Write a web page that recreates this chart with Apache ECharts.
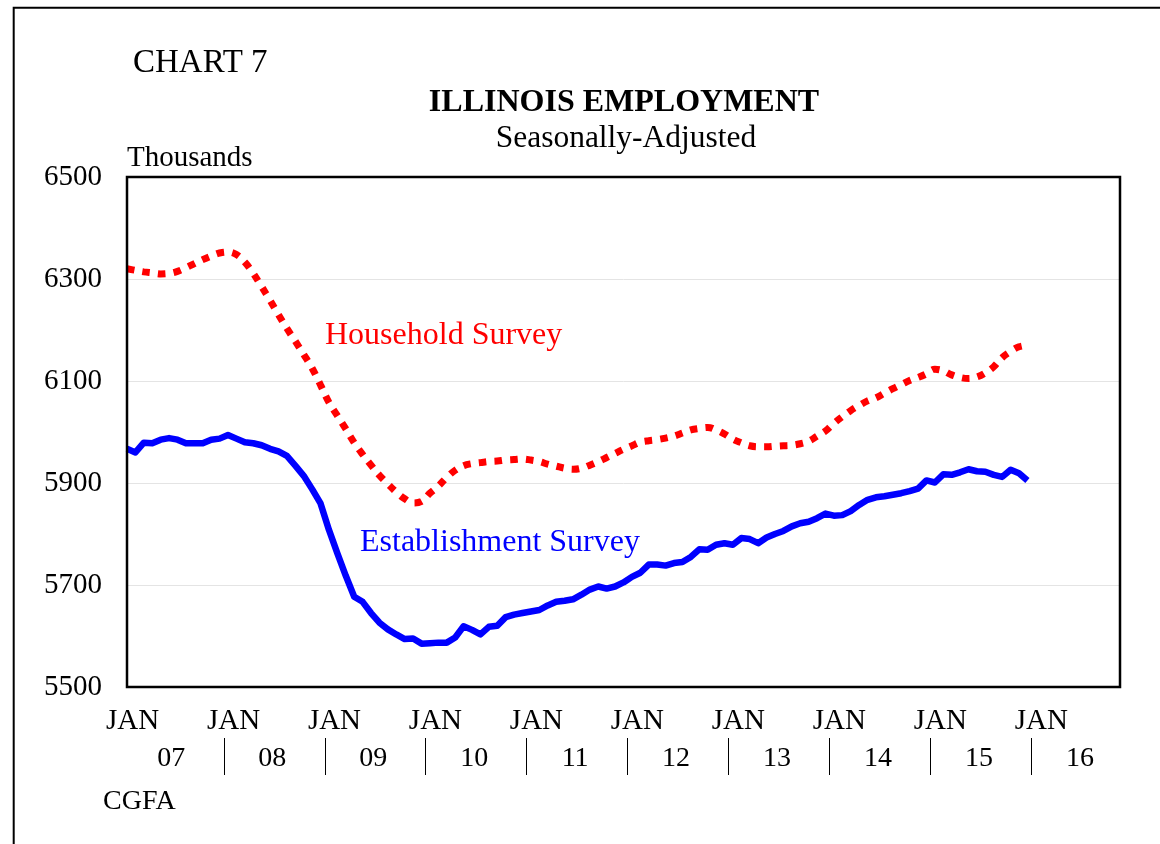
<!DOCTYPE html>
<html>
<head>
<meta charset="utf-8">
<script src="https://cdn.jsdelivr.net/npm/echarts@6/dist/echarts.min.js"></script>
<style>
html,body{margin:0;padding:0;background:#fff;}
#c{width:1160px;height:844px;}
</style>
</head>
<body>
<div id="c"></div>
<script>
// ---- DATA ----
const monthNames = ['JAN','FEB','MAR','APR','MAY','JUN','JUL','AUG','SEP','OCT','NOV','DEC'];
const yearLabels = ['07','08','09','10','11','12','13','14','15','16'];
// monthly categories Jan 2007 .. Nov 2016 (axis span)
const categories = [];
yearLabels.forEach(y => monthNames.forEach(m => categories.push(m + ' ' + y)));
categories.length = 119;

const yTickValues = [5500, 5700, 5900, 6100, 6300, 6500];

// Household Survey (thousands), Jan 2007 - Dec 2015
const household = [
  6320,6317,6314,6312,6310,6311,6315,6322,6330,6338,6345,6351,
  6353,6348,6333,6311,6285,6258,6230,6203,6178,6152,6125,6092,
  6058,6032,6006,5979,5956,5935,5915,5898,5882,5869,5861,5864,
  5880,5894,5911,5925,5934,5938,5940,5942,5943,5945,5946,5947,
  5945,5942,5937,5933,5929,5927,5929,5935,5942,5950,5958,5966,
  5973,5980,5983,5985,5988,5992,5998,6004,6007,6009,6004,5996,
  5986,5979,5973,5971,5971,5972,5973,5974,5977,5982,5992,6002,
  6017,6030,6042,6052,6061,6067,6076,6085,6093,6101,6107,6114,
  6123,6120,6112,6107,6105,6108,6116,6128,6146,6158,6167,6170
];

// Establishment Survey (thousands), Jan 2007 - Dec 2015
const establishment = [
  5967,5960,5979,5978,5985,5988,5985,5978,5978,5978,5985,5987,
  5994,5987,5980,5978,5974,5967,5962,5953,5934,5914,5888,5860,
  5808,5762,5718,5677,5667,5645,5626,5613,5603,5594,5595,5585,
  5586,5587,5587,5597,5619,5612,5603,5618,5620,5637,5642,5645,
  5648,5651,5660,5667,5669,5672,5681,5691,5697,5693,5697,5705,
  5716,5724,5740,5740,5738,5743,5745,5755,5770,5769,5779,5782,
  5779,5792,5790,5782,5793,5800,5806,5815,5821,5824,5831,5840,
  5836,5837,5845,5857,5867,5872,5874,5877,5880,5884,5889,5905,
  5901,5917,5916,5921,5927,5923,5922,5916,5912,5926,5919,5905
];

// ---- LAYOUT ----
const FONT = "'Liberation Serif','Times New Roman',Times,serif";
const G = {left: 127, top: 177, right: 1120, bottom: 687};
const sepValues = [];   // year separators (between Dec and Jan)
const yearPos = [];     // year label positions
for (let k = 0; k < yearLabels.length; k++) {
  if (k > 0) sepValues.push(12 * k - 0.5);
  yearPos.push(12 * k + 5.25);
}

const chart = echarts.init(document.getElementById('c'), null, {renderer: 'canvas'});
const option = {
  backgroundColor: '#ffffff',
  animation: false,
  grid: {
    left: G.left, right: 1160 - G.right, top: G.top, bottom: 844 - G.bottom,
    show: false
  },
  xAxis: [
    {
      type: 'category',
      data: categories,
      boundaryGap: false,
      axisLine: {show: false},
      axisTick: {show: false},
      splitLine: {show: false},
      axisLabel: {
        interval: (i) => i % 12 === 0,
        hideOverlap: false,
        formatter: (v) => v.split(' ')[0],
        color: '#000',
        fontFamily: FONT,
        fontSize: 29,
        margin: 20,
        padding: [0, 0, 0, 11]
      }
    },
    {
      type: 'value',
      min: 0,
      max: categories.length - 1,
      position: 'bottom',
      offset: 51,
      axisLine: {show: false},
      splitLine: {show: false},
      axisTick: {
        show: true,
        customValues: sepValues,
        length: 37,
        lineStyle: {color: '#000', width: 1}
      },
      axisLabel: {
        customValues: yearPos,
        formatter: (v) => yearLabels[Math.floor(v / 12)],
        color: '#000',
        fontFamily: FONT,
        fontSize: 28,
        margin: 7
      }
    }
  ],
  yAxis: {
    type: 'value',
    min: 5500,
    max: 6500,
    axisLine: {show: false},
    axisTick: {show: false, customValues: yTickValues},
    splitLine: {show: true, lineStyle: {color: '#e4e4e4', width: 1}},
    axisLabel: {
      customValues: yTickValues,
      formatter: (v) => String(v),
      color: '#000',
      fontFamily: FONT,
      fontSize: 29,
      margin: 25,
      padding: [4, 0, 0, 0]
    }
  },
  series: [
    {
      name: 'Household Survey',
      type: 'line',
      data: household,
      smooth: 0.4,
      symbol: 'none',
      lineStyle: {color: '#ff0000', width: 7, type: [7.5, 8.2], cap: 'butt'},
      z: 3
    },
    {
      name: 'Establishment Survey',
      type: 'line',
      data: establishment,
      symbol: 'none',
      lineStyle: {color: '#0000ff', width: 6.5, join: 'round'},
      z: 4
    }
  ],
  graphic: [
    {type: 'rect', silent: true, z: -10,
     shape: {x: 13.7, y: 7.7, width: 1300, height: 1000},
     style: {fill: 'none', stroke: '#000', lineWidth: 2}},
    {type: 'rect', silent: true, z: 100,
     shape: {x: G.left, y: G.top, width: G.right - G.left, height: G.bottom - G.top},
     style: {fill: 'none', stroke: '#000', lineWidth: 2.5}},
    {type: 'text', x: 133, y: 63.5,
     style: {text: 'CHART 7', font: '33px ' + FONT, fill: '#000', align: 'left', verticalAlign: 'middle'}},
    {type: 'text', x: 624, y: 102.5,
     style: {text: 'ILLINOIS EMPLOYMENT', font: 'bold 32px ' + FONT, fill: '#000', align: 'center', verticalAlign: 'middle'}},
    {type: 'text', x: 626, y: 138.5,
     style: {text: 'Seasonally-Adjusted', font: '31.5px ' + FONT, fill: '#000', align: 'center', verticalAlign: 'middle'}},
    {type: 'text', x: 127, y: 158.5,
     style: {text: 'Thousands', font: '29px ' + FONT, fill: '#000', align: 'left', verticalAlign: 'middle'}},
    {type: 'text', x: 103, y: 802,
     style: {text: 'CGFA', font: '28px ' + FONT, fill: '#000', align: 'left', verticalAlign: 'middle'}},
    {type: 'text', x: 325, y: 336,
     style: {text: 'Household Survey', font: '32px ' + FONT, fill: '#ff0000', align: 'left', verticalAlign: 'middle'}},
    {type: 'text', x: 360, y: 542.5,
     style: {text: 'Establishment Survey', font: '32px ' + FONT, fill: '#0000ff', align: 'left', verticalAlign: 'middle'}}
  ]
};
chart.setOption(option);
</script>
</body>
</html>
